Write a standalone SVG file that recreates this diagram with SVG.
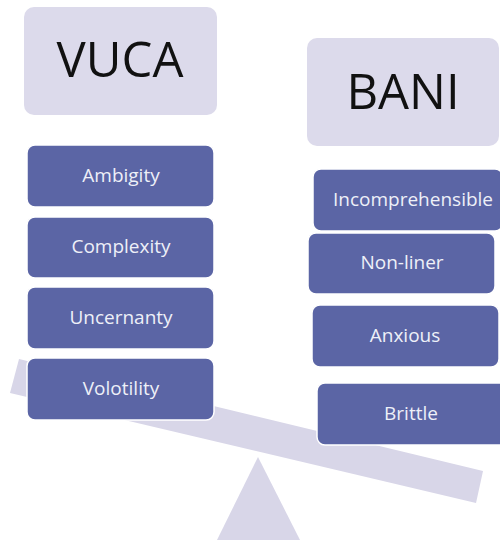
<svg xmlns="http://www.w3.org/2000/svg" width="500" height="540" viewBox="0 0 500 540">
<style>
.light{fill:#dcdaeb}
.dark{fill:#5b65a5;stroke:#ffffff;stroke-width:1.5}
.title{font-family:"Open Sans","Noto Sans",sans-serif;font-size:49px;fill:#111111;text-anchor:middle}
.lbl{font-family:"Open Sans","Noto Sans",sans-serif;font-size:19px;fill:#eef0f8;text-anchor:middle}
.beam{fill:#d8d6e8}
</style>
<rect width="500" height="540" fill="#ffffff"/>
<g id="seesaw">
<polygon class="beam" points="19,359 483,471 476,503 10,393"/>
<polygon class="beam" points="258,457 300,540 217,540"/>
</g>
<g id="connectors"></g>
<g id="vuca">
<rect class="light" x="24" y="7" width="193" height="108" rx="10"/>
<text class="title" x="120" y="77">VUCA</text>
</g>
<g id="bani">
<rect class="light" x="307" y="38" width="192" height="108" rx="10"/>
<text class="title" x="403" y="109">BANI</text>
</g>
<g id="ambigity">
<rect class="dark" x="27" y="145" width="187" height="62" rx="8"/>
<text class="lbl" x="121" y="182">Ambigity</text>
</g>
<g id="complexity">
<rect class="dark" x="27" y="217" width="187" height="61" rx="8"/>
<text class="lbl" x="121" y="253">Complexity</text>
</g>
<g id="uncernanty">
<rect class="dark" x="27" y="287" width="187" height="62" rx="8"/>
<text class="lbl" x="121" y="324">Uncernanty</text>
</g>
<g id="volotility">
<rect class="dark" x="27" y="358" width="187" height="62" rx="8"/>
<text class="lbl" x="121" y="395">Volotility</text>
</g>
<g id="incomprehensible">
<rect class="dark" x="313" y="169" width="190" height="62" rx="8"/>
<text class="lbl" x="413" y="206">Incomprehensible</text>
</g>
<g id="nonliner">
<rect class="dark" x="308" y="233" width="187" height="61" rx="8"/>
<text class="lbl" x="402" y="269">Non-liner</text>
</g>
<g id="anxious">
<rect class="dark" x="312" y="305" width="187" height="62" rx="8"/>
<text class="lbl" x="405" y="342">Anxious</text>
</g>
<g id="brittle">
<rect class="dark" x="317" y="383" width="190" height="62" rx="8"/>
<text class="lbl" x="411" y="420">Brittle</text>
</g>
</svg>
